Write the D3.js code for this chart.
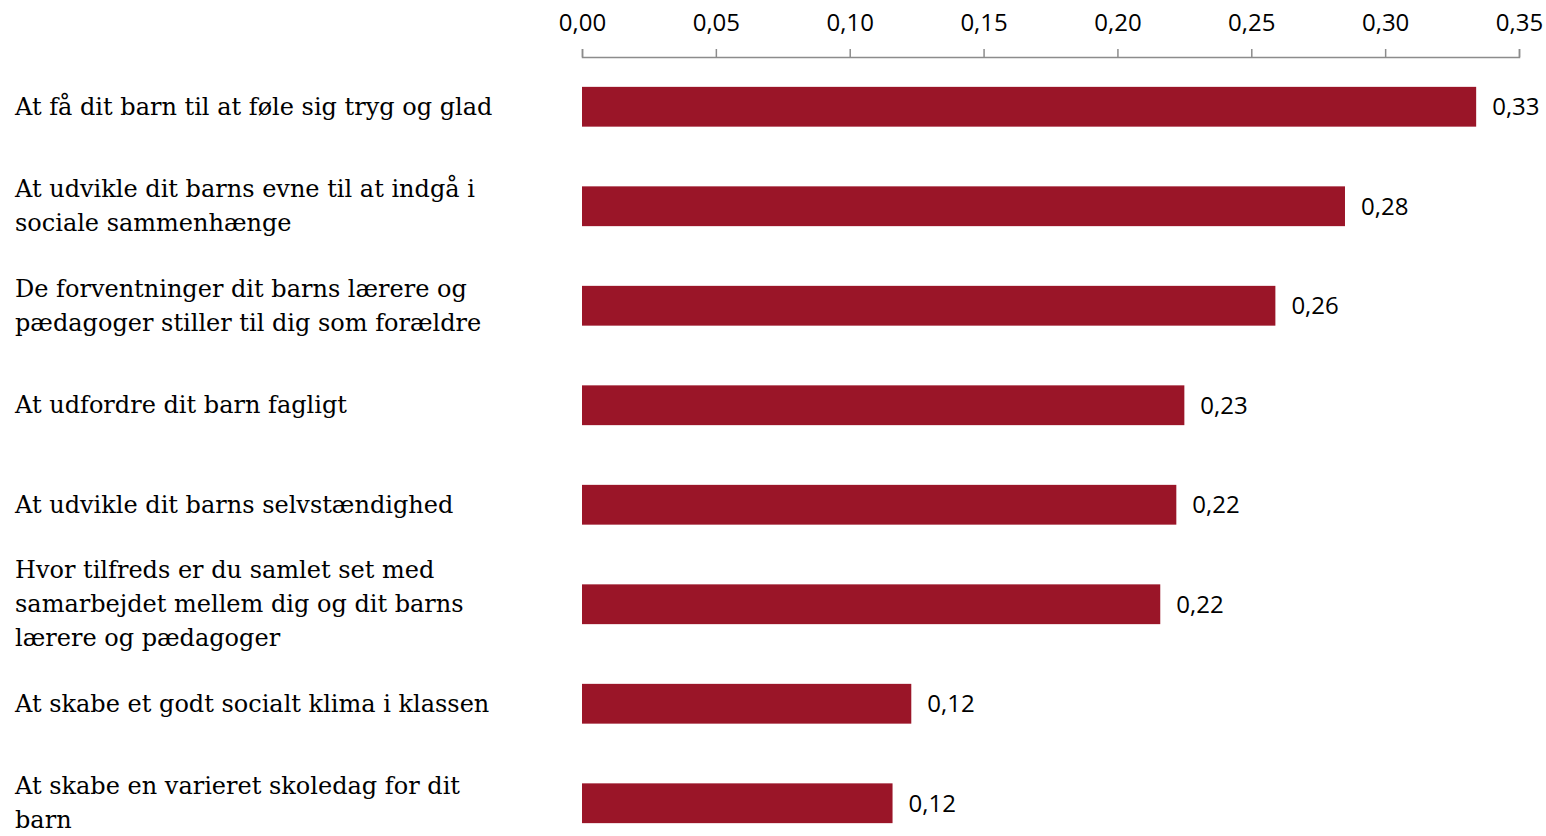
<!DOCTYPE html>
<html>
<head>
<meta charset="utf-8">
<script src="https://cdn.jsdelivr.net/npm/d3@7"></script>
<style>
  html, body { margin: 0; padding: 0; background: #ffffff; }
  svg { display: block; }
</style>
</head>
<body>
<svg id="chart" width="1546" height="836"></svg>
<script>
// ---- data ----
const categories = [
  "At få dit barn til at føle sig tryg og glad",
  "At udvikle dit barns evne til at indgå i|sociale sammenhænge",
  "De forventninger dit barns lærere og|pædagoger stiller til dig som forældre",
  "At udfordre dit barn fagligt",
  "At udvikle dit barns selvstændighed",
  "Hvor tilfreds er du samlet set med|samarbejdet mellem dig og dit barns|lærere og pædagoger",
  "At skabe et godt socialt klima i klassen",
  "At skabe en varieret skoledag for dit|barn"
];
const values = [0.334, 0.285, 0.259, 0.225, 0.222, 0.216, 0.123, 0.116];
const tickValues = [0, 0.05, 0.10, 0.15, 0.20, 0.25, 0.30, 0.35];

// ---- setup ----
const svg = d3.select("#chart");
const locale = d3.formatLocale({decimal: ",", thousands: ".", grouping: [3], currency: ["", " kr."]});
const fmt = locale.format(".2f");

const x = d3.scaleLinear().domain([0, 0.35]).range([582, 1519]);
const y = d3.scaleBand().domain(categories).range([57, 853]).paddingInner(0.6).paddingOuter(0.3);

const barColor = "#9A1528";
const axisColor = "#8C8C8C";
const sansFont = "'Open Sans', 'Liberation Sans', sans-serif";
const serifFont = "'DejaVu Serif', 'Liberation Serif', serif";

// axis
const axis = d3.axisTop(x).tickValues(tickValues).tickFormat(fmt).tickSize(8).tickSizeOuter(8).tickPadding(18);
const gAxis = svg.append("g").attr("transform", "translate(0,57)").call(axis);
gAxis.select(".domain").attr("stroke", axisColor).attr("stroke-width", 1.5);
gAxis.selectAll(".tick line").attr("stroke", axisColor).attr("stroke-width", 1.5);
gAxis.selectAll(".tick text")
  .attr("fill", "#000")
  .style("font-family", sansFont)
  .style("font-size", "24px");

// bars
svg.append("g").selectAll("rect")
  .data(values)
  .join("rect")
  .attr("x", x(0))
  .attr("y", (d, i) => y(categories[i]))
  .attr("width", d => x(d) - x(0))
  .attr("height", y.bandwidth())
  .attr("fill", barColor);

// value labels
svg.append("g").selectAll("text")
  .data(values)
  .join("text")
  .attr("x", d => x(d) + 16)
  .attr("y", (d, i) => y(categories[i]) + y.bandwidth() / 2)
  .attr("dy", "0.36em")
  .style("font-family", sansFont)
  .style("font-size", "24px")
  .attr("fill", "#000")
  .text(d => fmt(d));

// category labels
const lineH = 34;
const gLab = svg.append("g");
categories.forEach((c, i) => {
  const lines = c.split("|");
  const cy = y(c) + y.bandwidth() / 2;
  const t = gLab.append("text")
    .attr("x", 15)
    .attr("y", cy - (lines.length - 1) * lineH / 2)
    .style("font-family", serifFont)
    .style("font-size", "24px")
    .attr("fill", "#000");
  lines.forEach((ln, j) => {
    t.append("tspan").attr("x", 15).attr("dy", j === 0 ? "0.33em" : lineH).text(ln);
  });
});
</script>
</body>
</html>
